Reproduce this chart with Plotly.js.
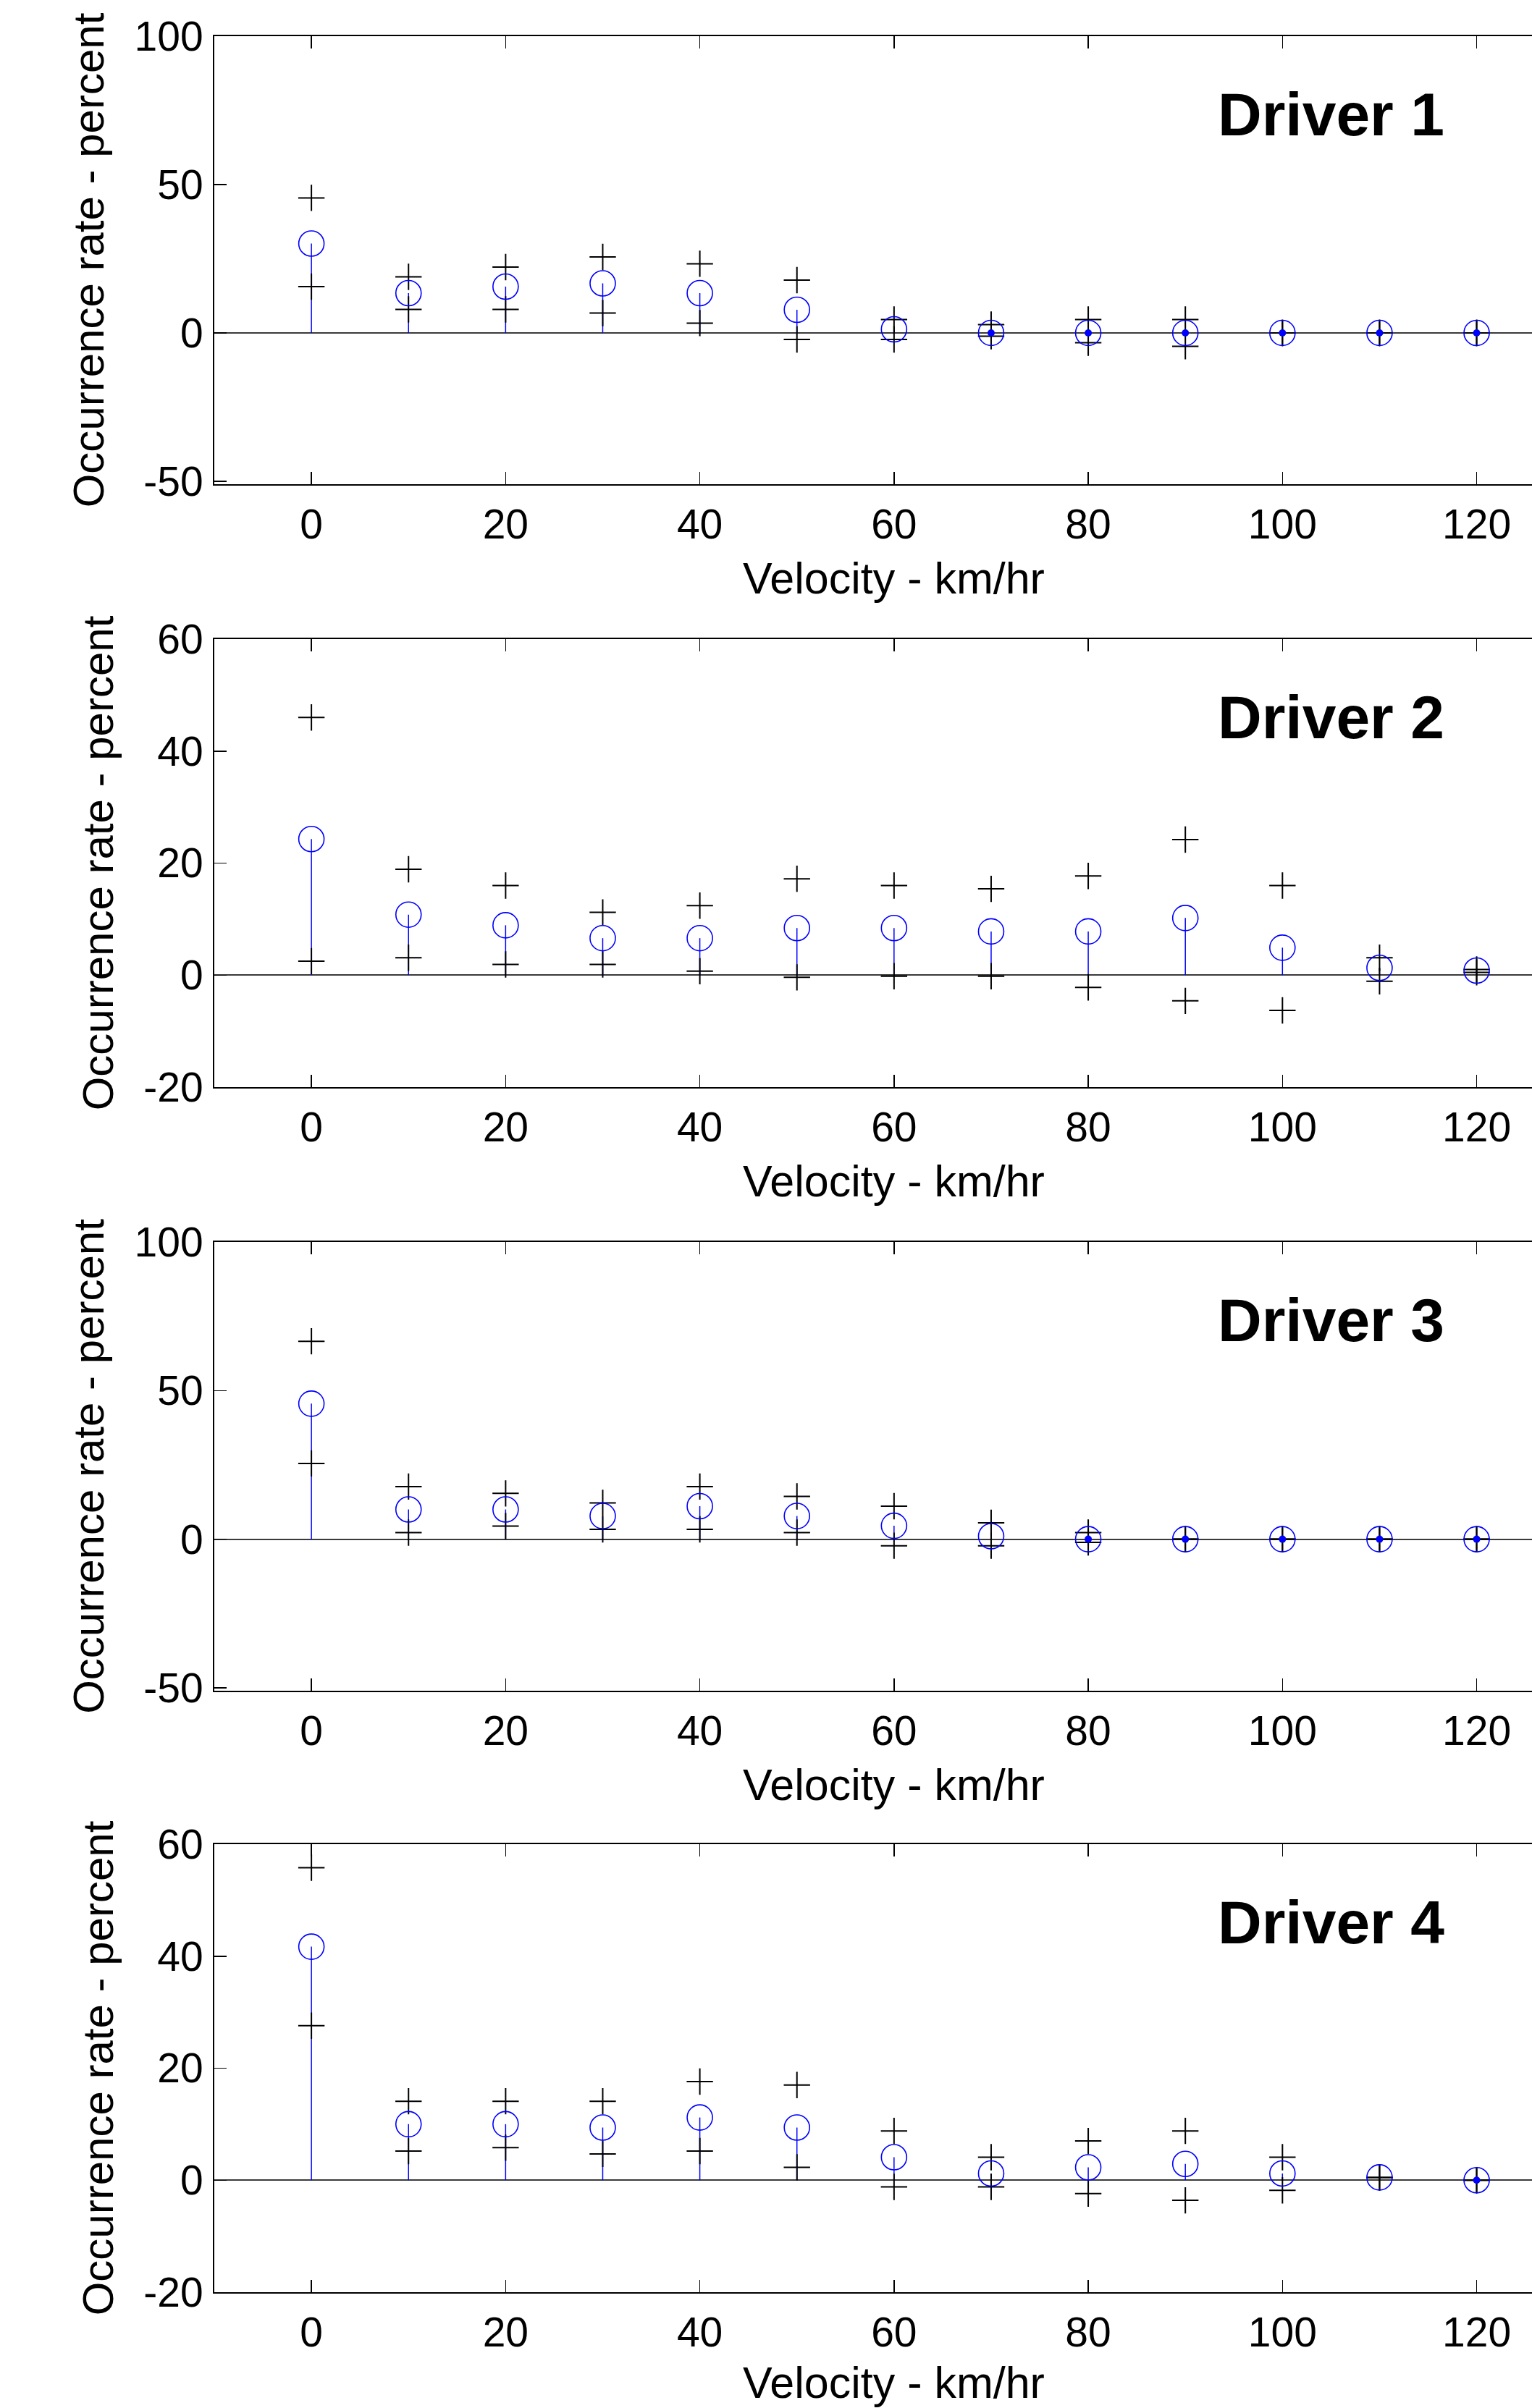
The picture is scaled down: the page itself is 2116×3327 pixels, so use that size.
<!DOCTYPE html>
<html>
<head>
<meta charset="utf-8">
<script src="https://cdn.plot.ly/plotly-3.0.1.min.js"></script>
<style>
html,body{margin:0;padding:0;background:#fff;}
#chart{width:2116px;height:3327px;}
</style>
</head>
<body>
<div id="chart"></div>
<script>
// ---------------- data ----------------
const velocity = [0,10,20,30,40,50,60,70,80,90,100,110,120];

const driver1Mean  = [30.1,13.4,15.6,16.7,13.4,7.8,1.2,0,0,0,0,0,0];
const driver1Upper = [45.5,18.9,22.2,25.6,23.3,17.8,4.5,2.8,4.5,4.5,0,0,0];
const driver1Lower = [15.6,7.9,7.9,6.7,3.3,-2.2,-2.2,-1.1,-3.3,-4.5,0,0,0];

const driver2Mean  = [24.3,10.8,8.9,6.6,6.6,8.4,8.4,7.8,7.8,10.2,4.9,1.3,0.8];
const driver2Upper = [46.0,18.9,16.0,11.2,12.4,17.2,16.0,15.4,17.7,24.2,16.0,3.1,1.0];
const driver2Lower = [2.5,3.1,1.9,1.9,0.7,-0.4,-0.2,-0.2,-2.2,-4.6,-6.3,-1.1,0.5];

const driver3Mean  = [45.6,10.0,10.0,7.8,11.1,7.8,4.5,1.0,0,0,0,0,0];
const driver3Upper = [66.6,17.7,15.4,12.2,17.7,14.4,11.1,5.5,2.2,0,0,0,0];
const driver3Lower = [25.5,2.2,4.4,3.3,3.3,2.2,-2.2,-2.2,-1.1,0,0,0,0];

const driver4Mean  = [41.7,10.0,10.0,9.4,11.2,9.4,4.1,1.2,2.3,2.9,1.2,0.5,0];
const driver4Upper = [55.8,14.1,14.1,14.1,17.6,17.0,8.8,4.1,7.0,8.8,4.1,0.5,0];
const driver4Lower = [27.6,5.2,5.8,4.7,5.2,2.3,-1.2,-1.2,-2.4,-3.6,-1.8,0.5,0];

const driverLabels = ['Driver 1','Driver 2','Driver 3','Driver 4'];

const xTickVals = [0,20,40,60,80,100,120];
const xTickText = ['0','20','40','60','80','100','120'];
const yTickValsWide = [-50,0,50,100];
const yTickTextWide = ['-50','0','50','100'];
const yTickValsNarrow = [-20,0,20,40,60];
const yTickTextNarrow = ['-20','0','20','40','60'];

const xTitle = 'Velocity - km/hr';
const yTitle = 'Occurrence rate - percent';

// ---------------- build ----------------
const W = 2116, H = 3327;
const FONT = '"Liberation Sans", Arial, Helvetica, sans-serif';
const X_RANGE = [-10, 125.7];
const X_TITLE_CENTER = 60;   // x-label centred on the full (uncropped) axis

const drivers = [
  {mean: driver1Mean, upper: driver1Upper, lower: driver1Lower, label: driverLabels[0]},
  {mean: driver2Mean, upper: driver2Upper, lower: driver2Lower, label: driverLabels[1]},
  {mean: driver3Mean, upper: driver3Upper, lower: driver3Lower, label: driverLabels[2]},
  {mean: driver4Mean, upper: driver4Upper, lower: driver4Lower, label: driverLabels[3]}
];

const panelLayout = [
  {top: 50,   bottom: 669,  range: [-51, 100], tv: yTickValsWide,   tt: yTickTextWide},
  {top: 883,  bottom: 1502, range: [-20, 60],  tv: yTickValsNarrow, tt: yTickTextNarrow},
  {top: 1716, bottom: 2336, range: [-51, 100], tv: yTickValsWide,   tt: yTickTextWide},
  {top: 2548, bottom: 3167, range: [-20, 60],  tv: yTickValsNarrow, tt: yTickTextNarrow}
];

const traces = [];
const layout = {
  width: W, height: H,
  margin: {l: 0, r: 0, t: 0, b: 0},
  paper_bgcolor: '#fff', plot_bgcolor: 'rgba(0,0,0,0)',
  showlegend: false,
  font: {family: FONT, color: '#000', size: 57},
  annotations: []
};

drivers.forEach((d, i) => {
  const sfx = i === 0 ? '' : String(i + 1);
  const xa = 'x' + sfx, ya = 'y' + sfx;
  const p = panelLayout[i];
  const last = i === drivers.length - 1;

  // stems
  const sx = [], sy = [];
  velocity.forEach((v, k) => { sx.push(v, v, null); sy.push(0, d.mean[k], null); });
  traces.push({x: sx, y: sy, xaxis: xa, yaxis: ya, mode: 'lines', type: 'scatter',
    line: {color: '#0000ff', width: 1.5}, hoverinfo: 'skip', cliponaxis: false});

  // upper and lower bounds
  [d.upper, d.lower].forEach(arr => {
    traces.push({x: velocity, y: arr, xaxis: xa, yaxis: ya, mode: 'markers', type: 'scatter',
      marker: {symbol: 'cross-thin-open', size: 26, color: '#000', line: {color: '#000', width: 2}},
      cliponaxis: false});
  });

  // open circles
  traces.push({x: velocity, y: d.mean, xaxis: xa, yaxis: ya, mode: 'markers', type: 'scatter',
    marker: {symbol: 'circle-open', size: 35, color: '#0000ff', line: {color: '#0000ff', width: 1.6}},
    cliponaxis: false});

  // zero-length stems show as a filled dot
  const zx = velocity.filter((v, k) => d.mean[k] === 0);
  const zy = zx.map(() => 0);
  traces.push({x: zx, y: zy, xaxis: xa, yaxis: ya, mode: 'markers', type: 'scatter',
    marker: {symbol: 'circle', size: 10, color: '#0000ff'}, cliponaxis: false});

  layout['xaxis' + sfx] = {
    domain: [296 / W, 1], range: X_RANGE, anchor: ya,
    tickmode: 'array', tickvals: xTickVals, ticktext: xTickText,
    ticks: 'inside', ticklen: 17, tickwidth: 1.5, tickcolor: '#000',
    showline: true, linecolor: '#000', linewidth: 2, mirror: 'ticks',
    showgrid: false, zeroline: false,
    tickfont: {size: 57, family: FONT, color: '#000'},
    ticklabelstandoff: 5,
    fixedrange: true
  };
  layout['yaxis' + sfx] = {
    domain: [1 - p.bottom / H, 1 - p.top / H], range: p.range, anchor: xa,
    tickmode: 'array', tickvals: p.tv, ticktext: p.tt,
    ticks: 'inside', ticklen: 17, tickwidth: 1.5, tickcolor: '#000',
    showline: true, linecolor: '#000', linewidth: 2, mirror: false,
    showgrid: false,
    zeroline: true, zerolinecolor: '#3a3a3a', zerolinewidth: 2,
    tickfont: {size: 57, family: FONT, color: '#000'},
    ticklabelstandoff: 2,
    title: {text: yTitle, font: {size: 60, family: FONT, color: '#000'}, standoff: 22},
    fixedrange: true
  };

  // x-axis title
  layout.annotations.push(last ? {
      text: xTitle, xref: xa, yref: 'paper', x: X_TITLE_CENTER, y: 0,
      xanchor: 'center', yanchor: 'bottom', showarrow: false, borderpad: 0,
      font: {size: 61, family: FONT, color: '#000'}
    } : {
      text: xTitle, xref: xa, yref: 'paper', x: X_TITLE_CENTER, y: 1 - (p.bottom + 130) / H,
      xanchor: 'center', yanchor: 'middle', showarrow: false,
      font: {size: 61, family: FONT, color: '#000'}
    });

  // driver label
  layout.annotations.push({
    text: '<b>' + d.label + '</b>', xref: 'paper', yref: 'paper',
    x: 1680 / W, y: 1 - (p.top + 108) / H, xanchor: 'left', yanchor: 'middle',
    showarrow: false, font: {size: 84, family: FONT, color: '#000'}
  });
});

Plotly.newPlot('chart', traces, layout, {staticPlot: true, displayModeBar: false});
</script>
</body>
</html>
